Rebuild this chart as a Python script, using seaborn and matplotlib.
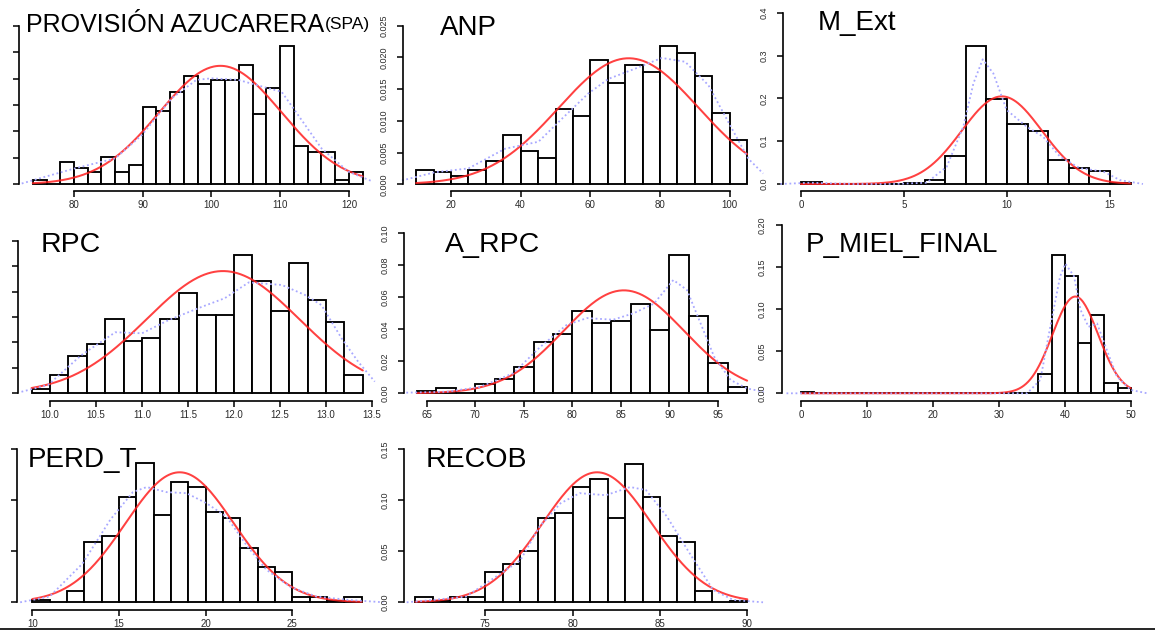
import numpy as np
import pandas as pd
import matplotlib
matplotlib.use("Agg")
import matplotlib.pyplot as plt
from matplotlib.lines import Line2D
import seaborn as sns

W, H = 1155, 631

# ---------------- data ----------------
# histogram densities (bin start, bin width, density per bin),
# normal fit (mean, sd) and kernel density points for each variable

spa_start, spa_width = 74, 2
spa_density = [0.0015, 0.0, 0.0086, 0.0061, 0.0045, 0.0102, 0.0045, 0.0073,
               0.0293, 0.0276, 0.0351, 0.0411, 0.0380, 0.0395, 0.0395, 0.0453,
               0.0266, 0.0363, 0.0525, 0.0146, 0.0121, 0.0121, 0.0015, 0.0045]
spa_mean, spa_sd = 101.3, 8.9
spa_kde_x = [72.4, 76.0, 80.1, 86.0, 89.9, 94.2, 97.8, 100.0, 103.9, 108.3, 110.2, 112.6, 116.0, 119.9, 123.5]
spa_kde_y = [0.0003, 0.0030, 0.0060, 0.0098, 0.0187, 0.0325, 0.0395, 0.0401, 0.0395, 0.0363, 0.0350, 0.0262, 0.0136, 0.0048, 0.0010]
spa_xticks = [80, 90, 100, 110, 120]
spa_yticks = [0.0, 0.01, 0.02, 0.03, 0.04, 0.05, 0.06]
spa_ylabels = ["0.00", "0.01", "0.02", "0.03", "0.04", "0.05", "0.06"]

anp_start, anp_width = 10, 5
anp_density = [0.0023, 0.0019, 0.0013, 0.0023, 0.0036, 0.0078, 0.0052, 0.0041,
               0.0119, 0.0108, 0.0196, 0.0159, 0.0188, 0.0177, 0.0218, 0.0206,
               0.0171, 0.0112, 0.0070]
anp_mean, anp_sd = 71.0, 20.1
anp_kde_x = [5.9, 15.4, 25.0, 35.5, 45.1, 51.8, 59.4, 65.2, 72.8, 80.5, 87.2, 93.9, 99.6, 105.4, 109.6]
anp_kde_y = [0.0006, 0.0019, 0.0025, 0.0056, 0.0067, 0.0103, 0.0143, 0.0166, 0.0182, 0.0199, 0.0193, 0.0156, 0.0098, 0.0040, 0.0017]
anp_xticks = [20, 40, 60, 80, 100]
anp_yticks = [0.0, 0.005, 0.010, 0.015, 0.020, 0.025]
anp_ylabels = ["0.000", "0.005", "0.010", "0.015", "0.020", "0.025"]

mext_start, mext_width = 0, 1
mext_density = [0.004, 0.0, 0.0, 0.0, 0.001, 0.002, 0.009, 0.066, 0.323,
                0.198, 0.141, 0.124, 0.055, 0.038, 0.031, 0.003]
mext_mean, mext_sd = 9.75, 1.95
mext_kde_x = [-1.0, 0.44, 2.5, 4.5, 6.1, 7.07, 7.88, 8.37, 8.82, 9.34, 9.98, 10.95, 11.76, 12.57, 13.54, 14.68, 15.49, 16.6]
mext_kde_y = [0.0, 0.003, 0.0, 0.0, 0.003, 0.040, 0.134, 0.235, 0.291, 0.258, 0.173, 0.134, 0.110, 0.064, 0.037, 0.029, 0.009, 0.0]
mext_xticks = [0, 5, 10, 15]
mext_yticks = [0.0, 0.1, 0.2, 0.3, 0.4]
mext_ylabels = ["0.0", "0.1", "0.2", "0.3", "0.4"]

rpc_start, rpc_width = 9.8, 0.2
rpc_density = [0.017, 0.072, 0.146, 0.192, 0.294, 0.206, 0.219, 0.294, 0.394,
               0.308, 0.308, 0.542, 0.441, 0.322, 0.513, 0.368, 0.281, 0.072]
rpc_mean, rpc_sd = 11.88, 0.83
rpc_kde_x = [9.69, 9.98, 10.34, 10.71, 11.0, 11.29, 11.65, 11.9, 12.16, 12.52, 12.77, 12.95, 13.17, 13.35, 13.53]
rpc_kde_y = [0.006, 0.033, 0.150, 0.240, 0.236, 0.288, 0.340, 0.374, 0.436, 0.426, 0.387, 0.347, 0.216, 0.124, 0.046]
rpc_xticks = [10.0, 10.5, 11.0, 11.5, 12.0, 12.5, 13.0, 13.5]
rpc_xlabels = ["10.0", "10.5", "11.0", "11.5", "12.0", "12.5", "13.0", "13.5"]
rpc_yticks = [0.0, 0.1, 0.2, 0.3, 0.4, 0.5, 0.6]
rpc_ylabels = ["0.0", "0.1", "0.2", "0.3", "0.4", "0.5", "0.6"]

arpc_start, arpc_width = 64, 2
arpc_density = [0.0017, 0.0031, 0.0, 0.0058, 0.0090, 0.0163, 0.0323, 0.0371,
                0.0513, 0.0440, 0.0454, 0.0556, 0.0396, 0.0865, 0.0485, 0.0192, 0.0042]
arpc_mean, arpc_sd = 85.3, 6.2
arpc_kde_x = [62.9, 67.1, 70.5, 73.9, 76.7, 79.4, 81.5, 84.2, 86.3, 88.4, 90.4, 91.8, 93.2, 94.6, 96.3, 98.0, 99.7]
arpc_kde_y = [0.0004, 0.0010, 0.0040, 0.0125, 0.0290, 0.0427, 0.0470, 0.0460, 0.0500, 0.0560, 0.0708, 0.0646, 0.0438, 0.0229, 0.0083, 0.0030, 0.0010]
arpc_xticks = [65, 70, 75, 80, 85, 90, 95]
arpc_yticks = [0.0, 0.02, 0.04, 0.06, 0.08, 0.10]
arpc_ylabels = ["0.00", "0.02", "0.04", "0.06", "0.08", "0.10"]

pmf_start, pmf_width = 0, 2
pmf_density = [0.0015] + [0.0] * 17 + [0.0230, 0.164, 0.139, 0.0594, 0.0931, 0.0119, 0.0059]
pmf_mean, pmf_sd = 41.6, 3.47
pmf_kde_x = [-2.2, 34.3, 36.3, 37.8, 39.3, 40.1, 41.4, 42.4, 43.6, 44.9, 46.4, 47.9, 50.0, 52.5]
pmf_kde_y = [0.0, 0.0, 0.016, 0.079, 0.139, 0.154, 0.139, 0.099, 0.079, 0.083, 0.051, 0.020, 0.004, 0.0]
pmf_xticks = [0, 10, 20, 30, 40, 50]
pmf_yticks = [0.0, 0.05, 0.10, 0.15, 0.20]
pmf_ylabels = ["0.00", "0.05", "0.10", "0.15", "0.20"]

perd_start, perd_width = 10, 1
perd_density = [0.0023, 0.0, 0.0114, 0.0592, 0.0647, 0.1029, 0.1363, 0.0859,
                0.1176, 0.1127, 0.0882, 0.0830, 0.0533, 0.0350, 0.0297, 0.0049,
                0.0049, 0.0016, 0.0049]
perd_mean, perd_sd = 18.5, 3.13
perd_kde_x = [9.3, 11.0, 12.9, 14.5, 15.8, 16.6, 17.75, 18.9, 20.06, 21.2, 22.4, 23.5, 24.9, 26.4, 28.3, 30.25]
perd_kde_y = [0.0, 0.0056, 0.038, 0.081, 0.108, 0.113, 0.108, 0.107, 0.097, 0.084, 0.055, 0.032, 0.015, 0.0056, 0.0023, 0.0]
perd_xticks = [10, 15, 20, 25]
perd_yticks = [0.0, 0.05, 0.10, 0.15]
perd_ylabels = ["0.00", "0.05", "0.10", "0.15"]

recob_start, recob_width = 71, 1
recob_density = [0.0049, 0.0013, 0.0049, 0.0049, 0.0294, 0.0376, 0.0503, 0.0827,
                 0.0879, 0.1127, 0.1206, 0.0830, 0.1359, 0.1029, 0.0647, 0.0592,
                 0.0114, 0.0, 0.0016]
recob_mean, recob_sd = 81.4, 3.13
recob_kde_x = [70.5, 72.0, 73.9, 75.6, 77.0, 78.1, 79.3, 80.4, 81.9, 83.3, 84.2, 85.4, 86.7, 88.05, 89.2, 90.9]
recob_kde_y = [0.0, 0.0023, 0.0056, 0.025, 0.041, 0.074, 0.097, 0.107, 0.105, 0.113, 0.110, 0.084, 0.048, 0.012, 0.0023, 0.0]
recob_xticks = [75, 80, 85, 90]
recob_yticks = [0.0, 0.05, 0.10, 0.15]
recob_ylabels = ["0.00", "0.05", "0.10", "0.15"]

# ---------------- style ----------------
sns.set_style("ticks")
plt.rcParams["font.family"] = ["Liberation Sans", "DejaVu Sans"]

fig = plt.figure(figsize=(W / 100, H / 100), dpi=100)

# panel geometry in pixels: axis lines, plot extent, two x reference points,
# zero line and pixels per density unit
panels = [
    dict(title="PROVISIÓN AZUCARERA", sub="(SPA)", tpos=(26.5, 31.7), tsize=18,
         start=spa_start, width=spa_width, dens=spa_density, mu=spa_mean, sd=spa_sd,
         kx=spa_kde_x, ky=spa_kde_y, xt=spa_xticks, xl=None, yt=spa_yticks, yl=spa_ylabels,
         left=18.5, right=378, top=5, bottom=190.7, xref=((80, 74.0), (120, 349.0)),
         y0=184.3, ys=2643, ylab=False),
    dict(title="ANP", sub=None, tpos=(440, 35), tsize=20,
         start=anp_start, width=anp_width, dens=anp_density, mu=anp_mean, sd=anp_sd,
         kx=anp_kde_x, ky=anp_kde_y, xt=anp_xticks, xl=None, yt=anp_yticks, yl=anp_ylabels,
         left=403.3, right=762, top=5, bottom=190.7, xref=((20, 451.0), (100, 729.7)),
         y0=184.3, ys=6350, ylab=True),
    dict(title="M_Ext", sub=None, tpos=(818, 29.5), tsize=20,
         start=mext_start, width=mext_width, dens=mext_density, mu=mext_mean, sd=mext_sd,
         kx=mext_kde_x, ky=mext_kde_y, xt=mext_xticks, xl=None, yt=mext_yticks, yl=mext_ylabels,
         left=783.3, right=1150, top=5, bottom=190.7, xref=((0, 801.0), (15, 1110.0)),
         y0=184.0, ys=428.3, ylab=True),
    dict(title="RPC", sub=None, tpos=(40.7, 251.7), tsize=20.5,
         start=rpc_start, width=rpc_width, dens=rpc_density, mu=rpc_mean, sd=rpc_sd,
         kx=rpc_kde_x, ky=rpc_kde_y, xt=rpc_xticks, xl=rpc_xlabels, yt=rpc_yticks, yl=rpc_ylabels,
         left=18.3, right=378, top=215, bottom=400.7, xref=((10.0, 50.0), (13.5, 372.0)),
         y0=393.3, ys=254.3, ylab=False),
    dict(title="A_RPC", sub=None, tpos=(445, 251.7), tsize=20.5,
         start=arpc_start, width=arpc_width, dens=arpc_density, mu=arpc_mean, sd=arpc_sd,
         kx=arpc_kde_x, ky=arpc_kde_y, xt=arpc_xticks, xl=None, yt=arpc_yticks, yl=arpc_ylabels,
         left=404.0, right=765, top=215, bottom=400.7, xref=((65, 426.7), (95, 718.0)),
         y0=393.3, ys=1600, ylab=True),
    dict(title="P_MIEL_FINAL", sub=None, tpos=(805.7, 251.7), tsize=20,
         start=pmf_start, width=pmf_width, dens=pmf_density, mu=pmf_mean, sd=pmf_sd,
         kx=pmf_kde_x, ky=pmf_kde_y, xt=pmf_xticks, xl=None, yt=pmf_yticks, yl=pmf_ylabels,
         left=781.7, right=1150, top=215, bottom=400.7, xref=((0, 801.0), (50, 1130.7)),
         y0=393.3, ys=841.7, ylab=True),
    dict(title="PERD_T", sub=None, tpos=(27.3, 467.3), tsize=20,
         start=perd_start, width=perd_width, dens=perd_density, mu=perd_mean, sd=perd_sd,
         kx=perd_kde_x, ky=perd_kde_y, xt=perd_xticks, xl=None, yt=perd_yticks, yl=perd_ylabels,
         left=16.7, right=378, top=440, bottom=610.0, xref=((10, 32.3), (25, 292.3)),
         y0=602.3, ys=1020, ylab=False),
    dict(title="RECOB", sub=None, tpos=(425.7, 467.3), tsize=20.5,
         start=recob_start, width=recob_width, dens=recob_density, mu=recob_mean, sd=recob_sd,
         kx=recob_kde_x, ky=recob_kde_y, xt=recob_xticks, xl=None, yt=recob_yticks, yl=recob_ylabels,
         left=404.0, right=762, top=440, bottom=610.0, xref=((75, 485.3), (90, 747.3)),
         y0=602.3, ys=1020, ylab=True),
]

RED = (1.0, 0.12, 0.12)
BLUE = (0.66, 0.66, 1.0)

for p in panels:
    (v1, p1), (v2, p2) = p["xref"]
    k = (v2 - v1) / (p2 - p1)
    xlim = (v1 + (p["left"] - p1) * k, v1 + (p["right"] - p1) * k)
    ylim = ((p["y0"] - p["bottom"]) / p["ys"], (p["y0"] - p["top"]) / p["ys"])
    ax = fig.add_axes([p["left"] / W, 1 - p["bottom"] / H,
                       (p["right"] - p["left"]) / W, (p["bottom"] - p["top"]) / H])
    ax.patch.set_alpha(0)

    dens = list(p["dens"])
    edges = [p["start"] + p["width"] * i for i in range(len(dens) + 1)]
    mids = [(a + b) / 2 for a, b in zip(edges[:-1], edges[1:])]
    hist_df = pd.DataFrame({"value": mids, "density": dens})

    # histogram on the density scale
    sns.histplot(data=hist_df, x="value", weights="density", bins=edges, stat="count",
                 ax=ax, color="white", edgecolor="black", linewidth=1.35, alpha=1)

    # fitted normal curve over the histogram range
    grid = np.linspace(edges[0], edges[-1], 300)
    pdf = np.exp(-0.5 * ((grid - p["mu"]) / p["sd"]) ** 2) / (p["sd"] * np.sqrt(2 * np.pi))
    sns.lineplot(x=grid, y=pdf, ax=ax, color=RED, linewidth=1.45, alpha=0.85)

    # kernel density estimate (dotted)
    sns.lineplot(x=p["kx"], y=p["ky"], ax=ax, color=BLUE, linewidth=1.3,
                 linestyle=(0, (1, 1.5)), sort=False, clip_on=False)

    ax.set_xlim(xlim)
    ax.set_ylim(ylim)
    ax.set_xlabel("")
    ax.set_ylabel("")

    ax.set_xticks(p["xt"])
    ax.set_xticklabels(p["xl"] if p["xl"] else [str(v) for v in p["xt"]])
    ax.set_yticks(p["yt"])
    ax.set_yticklabels(p["yl"], rotation=90, va="center")

    for s in ("top", "right"):
        ax.spines[s].set_visible(False)
    for s in ("left", "bottom"):
        ax.spines[s].set_linewidth(1.2)
        ax.spines[s].set_color("black")
    ax.spines["left"].set_bounds(p["yt"][0], p["yt"][-1])
    ax.spines["bottom"].set_bounds(p["xt"][0], p["xt"][-1])

    ax.tick_params(axis="x", length=4.5, width=1.1, pad=2, labelsize=7,
                   labelcolor="#2a2a2a", color="black")
    ax.tick_params(axis="y", length=4.5, width=1.1, pad=6, labelsize=6.5,
                   labelcolor="#2a2a2a", color="black", labelleft=p["ylab"])

    # panel title
    tx, ty = p["tpos"]
    fig.text(tx / W, 1 - ty / H, p["title"], fontsize=p["tsize"], color="black",
             ha="left", va="baseline")
    if p["sub"]:
        fig.text(325 / W, 1 - 28.5 / H, p["sub"], fontsize=12.5, color="black",
                 ha="left", va="baseline")

# rule along the bottom edge
fig.add_artist(Line2D([0, 1], [1 - 629 / H, 1 - 629 / H], transform=fig.transFigure,
                      color="black", linewidth=1.2))

fig.savefig("out.png", dpi=100)
